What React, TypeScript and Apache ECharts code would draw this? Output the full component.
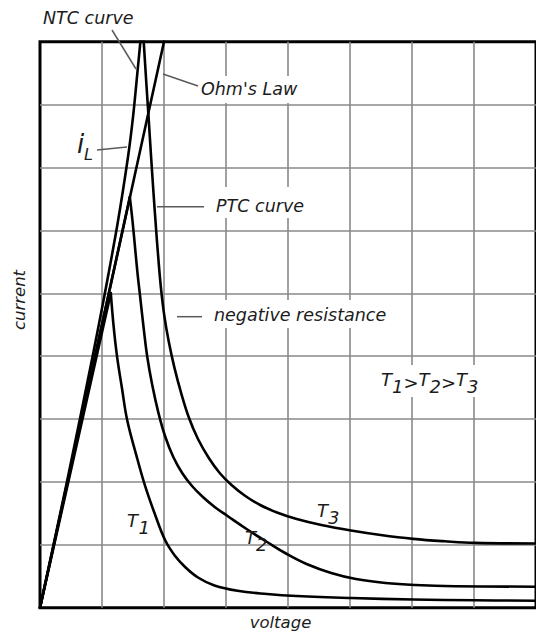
import React, { useEffect, useRef } from "react";
import * as echarts from "echarts";

// x = voltage, y = current, both in grid-cell units
const xRange = [0, 8];
const yRange = [0, 9];

const ohmsLaw = [[0, 0], [2.02, 9.09]];
const ntcCurve = [
  [0, 0], [0.445, 2.05], [0.849, 4.0], [1.035, 4.94], [1.25, 6.1],
  [1.417, 7.15], [1.5, 7.8], [1.576, 8.56], [1.619, 9.0], [1.632, 9.15],
];
const t1Rise = [[0, 0], [1.142, 5.0]];
const t1Fall = [
  [1.142, 5.003], [1.186, 4.49], [1.242, 4.0], [1.322, 3.49], [1.406, 2.984],
  [1.553, 2.427], [1.699, 1.924], [1.855, 1.482], [2.017, 1.076], [2.173, 0.83],
  [2.336, 0.652], [2.548, 0.48], [2.814, 0.353], [3.185, 0.269], [3.662, 0.218],
  [4.14, 0.186], [5.016, 0.154], [6.019, 0.13], [7.006, 0.118], [8.041, 0.111],
];
const t2Rise = [[0, 0], [1.449, 6.53]];
const t2Fall = [
  [1.449, 6.529], [1.494, 6.132], [1.537, 5.687], [1.576, 5.289], [1.616, 4.94],
  [1.672, 4.447], [1.728, 4.002], [1.807, 3.557], [1.911, 3.095], [2.022, 2.714],
  [2.15, 2.396], [2.293, 2.142], [2.452, 1.935], [2.627, 1.76], [2.818, 1.601],
  [3.025, 1.458], [3.344, 1.243], [3.662, 1.045], [3.981, 0.854], [4.299, 0.695],
  [4.697, 0.552], [5.096, 0.456], [5.573, 0.393], [6.051, 0.361], [6.688, 0.342],
  [8.041, 0.334],
];
const t3Fall = [
  [1.667, 9.089], [1.712, 8.39], [1.752, 7.786], [1.791, 7.182], [1.831, 6.593],
  [1.871, 6.037], [1.911, 5.528], [1.951, 5.083], [2.006, 4.637], [2.078, 4.224],
  [2.166, 3.826], [2.277, 3.413], [2.404, 3.016], [2.548, 2.682], [2.723, 2.38],
  [2.898, 2.142], [3.089, 1.951], [3.312, 1.776], [3.551, 1.633], [3.822, 1.514],
  [4.14, 1.41], [4.538, 1.315], [5.016, 1.227], [5.494, 1.156], [6.019, 1.095],
  [6.529, 1.056], [7.022, 1.03], [8.041, 1.021],
];

const xTitle = "voltage";
const yTitle = "current";

const FONT = '"DejaVu Sans", Verdana, sans-serif';
const TEXT_COLOR = "#1c1c1c";
const LEADER_COLOR = "#5a5a5a";

function txt(text: string, x: number, y: number, size: number, extra: any = {}) {
  return {
    type: "text",
    x,
    y,
    z: 10,
    silent: true,
    ...extra,
    style: {
      text,
      fill: TEXT_COLOR,
      font: `italic ${size}px ${FONT}`,
      textAlign: extra.align || "left",
      textVerticalAlign: "middle",
    },
  };
}

function leader(x1: number, y1: number, x2: number, y2: number) {
  return {
    type: "line",
    z: 9,
    silent: true,
    shape: { x1, y1, x2, y2 },
    style: { stroke: LEADER_COLOR, lineWidth: 1.5 },
  };
}

function box(x: number, y: number, width: number, height: number) {
  return {
    type: "rect",
    z: 1,
    silent: true,
    shape: { x, y, width, height },
    style: { fill: "#ffffff" },
  };
}

function curve(name: string, data: number[][], smooth: number | boolean) {
  return {
    type: "line",
    name,
    data,
    symbol: "none",
    showSymbol: false,
    smooth,
    clip: true,
    silent: true,
    z: 3,
    lineStyle: { color: "#000", width: 2.6, cap: "round", join: "round" },
  };
}

export default function App() {
  const ref = useRef<HTMLDivElement>(null);

  useEffect(() => {
    if (!ref.current) return;
    const chart = echarts.init(ref.current, undefined, { renderer: "svg" });
    const axisCommon = {
      type: "value",
      interval: 1,
      axisLine: { show: false },
      axisTick: { show: false },
      axisLabel: { show: false },
      splitLine: {
        show: true,
        showMinLine: false,
        showMaxLine: false,
        lineStyle: { color: "#8a8a8a", width: 1.6 },
      },
    };
    const T = 18;
    chart.setOption({
      animation: false,
      backgroundColor: "#ffffff",
      grid: {
        left: 40,
        top: 41.7,
        right: -6.4,
        bottom: 29.3,
        show: true,
        borderColor: "#000",
        borderWidth: 3,
        backgroundColor: "transparent",
      },
      xAxis: { ...axisCommon, min: xRange[0], max: xRange[1] },
      yAxis: { ...axisCommon, min: yRange[0], max: yRange[1] },
      series: [
        curve("Ohm's Law", ohmsLaw, false),
        curve("NTC curve", ntcCurve, 0.3),
        curve("T1 rise", t1Rise, false),
        curve("T1", t1Fall, 0.4),
        curve("T2 rise", t2Rise, false),
        curve("T2", t2Fall, 0.4),
        curve("T3", t3Fall, 0.4),
      ],
      graphic: [
        box(197, 76, 108, 27),
        box(211, 187, 98, 31),
        box(209, 300, 184, 28),
        box(376, 365, 108, 32),
        leader(112, 30, 136, 69),
        leader(163, 74, 198, 86),
        leader(97, 150, 127, 147),
        leader(157, 206.7, 204, 206.7),
        leader(177, 316.7, 202, 316.7),
        txt("NTC curve", 43, 18, 17.5),
        txt("Ohm's Law", 201, 89, 17.5),
        txt("PTC curve", 216, 205.5, 17.5),
        txt("negative resistance", 214, 315, 17.5),
        txt("i", 77, 144, 26),
        txt("L", 84, 154.5, 16),
        txt("T", 127, 520.5, T),
        txt("1", 138.5, 527.5, T),
        txt("T", 245, 537, T),
        txt("2", 256, 544, T),
        txt("T", 317, 510, T),
        txt("3", 328, 517, T),
        txt("T", 381, 379, T),
        txt("1", 392, 386, T),
        txt(">", 403.4, 382.5, T),
        txt("T", 418.5, 379, T),
        txt("2", 429.5, 386, T),
        txt(">", 441, 382.5, T),
        txt("T", 456, 379, T),
        txt("3", 467, 386, T),
        txt(xTitle, 280.5, 622, 16.5, { align: "center" }),
        txt(yTitle, 19.5, 300, 16.5, { align: "center", rotation: Math.PI / 2 }),
      ],
    });
    return () => chart.dispose();
  }, []);

  return (
    <div
      ref={ref}
      style={{ position: "absolute", left: 0, top: 0, width: 536, height: 637 }}
    />
  );
}
